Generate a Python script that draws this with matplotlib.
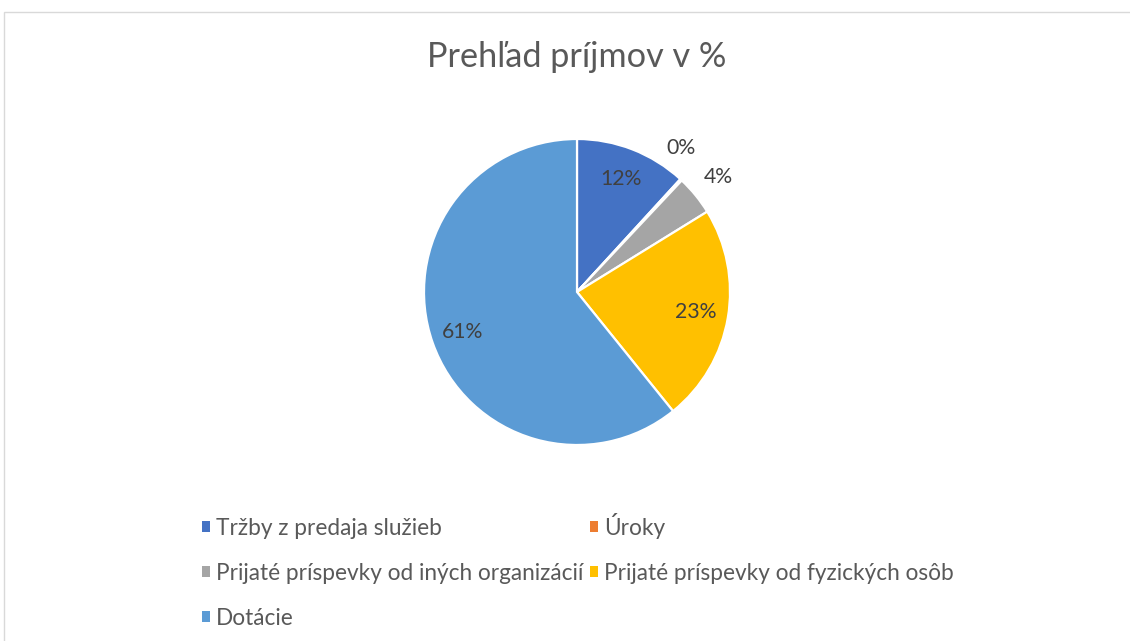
import numpy as np
import matplotlib.pyplot as plt
from matplotlib.patches import Rectangle

plt.rcParams['font.family'] = ['Lato', 'DejaVu Sans']

# data
categories = ['Tržby z predaja služieb', 'Úroky',
              'Prijaté príspevky od iných organizácií',
              'Prijaté príspevky od fyzických osôb', 'Dotácie']
values = [11.8, 0.2, 4.2, 23.0, 60.8]
pct_labels = ['12%', '0%', '4%', '23%', '61%']
colors = ['#4472C4', '#ED7D31', '#A5A5A5', '#FFC000', '#5B9BD5']

W, H = 1130, 641
fig = plt.figure(figsize=(W / 100, H / 100), dpi=100)

# chart border
fig.patches.append(Rectangle((4 / W, -0.01), 1.02, 1 - 12 / H + 0.01,
                             transform=fig.transFigure, fill=False,
                             edgecolor='#D9D9D9', linewidth=1))

cx, cy, r = 577, 292, 153
ax = fig.add_axes([(cx - r) / W, 1 - (cy + r) / H, 2 * r / W, 2 * r / H])
wedges, _ = ax.pie(values, colors=colors, startangle=90, counterclock=False,
                   wedgeprops=dict(edgecolor='white', linewidth=1.6))
ax.set_xlim(-1, 1)
ax.set_ylim(-1, 1)

# label placement (radius factor, angle shift in degrees)
label_r = [0.79, 1.16, 1.19, 0.79, 0.79]
label_shift = [0, 7, 0, 0, 0]
for w, txt, lr, sh in zip(wedges, pct_labels, label_r, label_shift):
    ang = np.deg2rad((w.theta1 + w.theta2) / 2 + sh)
    ax.text(lr * np.cos(ang), lr * np.sin(ang), txt, ha='center', va='center',
            fontsize=15.3, color='#404040')

fig.text(cx / W, 1 - 57 / H, 'Prehľad príjmov v %', ha='center', va='center',
         fontsize=24.7, color='#595959')

order = [0, 2, 4, 1, 3]
leg = fig.legend([wedges[i] for i in order], [categories[i] for i in order],
                 ncol=2, loc='upper left', bbox_to_anchor=(202 / W, 1 - 513 / H),
                 frameon=False, fontsize=16.3, handlelength=0.36, handleheight=0.36,
                 handletextpad=0.25, columnspacing=0.3, labelspacing=1.05,
                 borderaxespad=0, borderpad=0)
for t in leg.get_texts():
    t.set_color('#595959')
for h in leg.legend_handles:
    h.set_edgecolor('none')

fig.savefig('out.png', dpi=100, facecolor='white')
